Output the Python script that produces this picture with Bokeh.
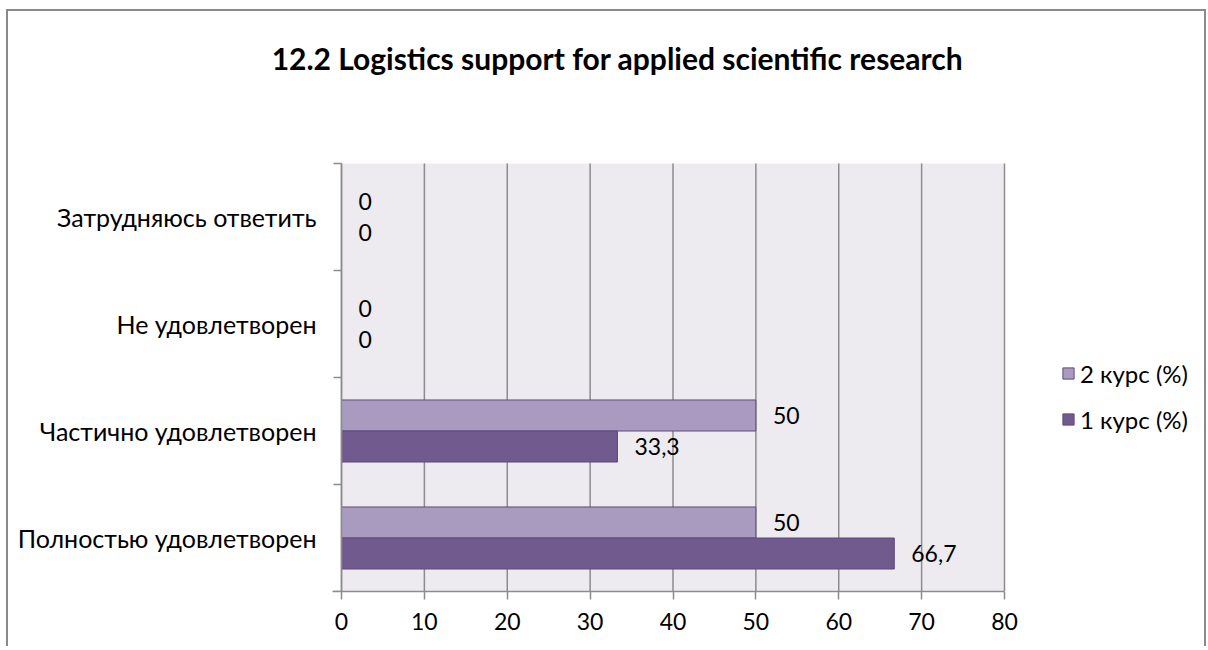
from bokeh.plotting import figure
from bokeh.models import ColumnDataSource, FixedTicker, Legend, LegendItem, Label
from bokeh.core.properties import value
from bokeh.embed import file_html
from bokeh.resources import INLINE

title_text = "12.2 Logistics support for applied scientific research"
categories = ["Полностью удовлетворен", "Частично удовлетворен", "Не удовлетворен", "Затрудняюсь ответить"]
series_names = ["2 курс (%)", "1 курс (%)"]
values_2 = [50, 50, 0, 0]
values_1 = [66.7, 33.3, 0, 0]
x_ticks = [0, 10, 20, 30, 40, 50, 60, 70, 80]
x_axis_max = 80

FONT = "Lato"
col_2 = "#A99BBF"
col_1 = "#715A8D"
edge = "#5F4A7B"
grid = "#8C8C8C"
plot_bg = "#EDEBF0"

n_cat = len(categories)
# plot area is 663 x 428 px, starting 333 px right of the canvas edge;
# the frame spans the whole canvas above the x axis (room for labels, title, legend)
AXIS_W, AXIS_H = 663, 428
LEFT_PAD, RIGHT_PAD, TOP_PAD = 333, 200, 152
FRAME_W = LEFT_PAD + AXIS_W + RIGHT_PAD
FRAME_H = TOP_PAD + AXIS_H
px_x = AXIS_W / x_axis_max
px_y = AXIS_H / n_cat
x_start = -LEFT_PAD / px_x
x_end = (AXIS_W + RIGHT_PAD) / px_x
y_end = n_cat * FRAME_H / AXIS_H

p = figure(frame_width=FRAME_W, frame_height=FRAME_H, output_backend="svg", toolbar_location=None,
           x_range=(x_start, x_end), y_range=(0, y_end),
           min_border_left=0, min_border_right=0, min_border_top=0, min_border_bottom=55)
p.styles = {"border-left": "2px solid #8A8A8A", "border-top": "2px solid #8A8A8A",
            "border-right": "2px solid #8A8A8A",
            "margin-top": "9px", "margin-left": "6px"}
p.outline_line_color = None
p.background_fill_color = "white"
p.border_fill_color = "white"

# plot area background (0..80 x categories)
p.quad(left=[0], right=[x_axis_max], bottom=[0], top=[n_cat],
       fill_color=plot_bg, line_color=None, level="image")
# vertical grid lines
p.segment(x0=x_ticks, y0=[0] * len(x_ticks), x1=x_ticks, y1=[n_cat] * len(x_ticks),
          line_color=grid, line_width=1.5, level="underlay")

bar_h = 0.29
idx = list(range(n_cat))

def fmt(v):
    return f"{v:g}".replace(".", ",")

src2 = ColumnDataSource(dict(y=[i + 0.5 + bar_h / 2 for i in idx], x=values_2, lab=[fmt(v) for v in values_2]))
src1 = ColumnDataSource(dict(y=[i + 0.5 - bar_h / 2 for i in idx], x=values_1, lab=[fmt(v) for v in values_1]))

r2 = p.hbar(y="y", right="x", left=0, height=bar_h, source=src2, fill_color=col_2, line_color=edge, line_width=1)
r1 = p.hbar(y="y", right="x", left=0, height=bar_h, source=src1, fill_color=col_1, line_color=edge, line_width=1)

for s in (src2, src1):
    p.text(x="x", y="y", text="lab", source=s, x_offset=17, text_baseline="middle", text_align="left",
           text_font=value(FONT), text_font_size="23px", text_color="black")

# x axis (below the frame); its line runs slightly left of 0 as in the original
p.xaxis.ticker = FixedTicker(ticks=x_ticks, minor_ticks=[])
p.xaxis.bounds = (-9 / px_x, x_axis_max)
p.xaxis.major_tick_out = 8
p.xaxis.major_tick_in = 0
p.xaxis.axis_line_color = grid
p.xaxis.axis_line_width = 1.5
p.xaxis.major_tick_line_color = grid
p.xaxis.major_tick_line_width = 1.5
p.xaxis.major_label_text_font = FONT
p.xaxis.major_label_text_font_size = "23px"
p.xaxis.major_label_text_color = "black"
p.xaxis.major_label_standoff = 13

# y axis drawn at x = 0
p.yaxis.fixed_location = 0
p.yaxis.ticker = FixedTicker(ticks=[i + 0.5 for i in idx], minor_ticks=[float(i) for i in range(n_cat + 1)])
p.yaxis.bounds = (0, n_cat)
p.yaxis.major_label_overrides = {i + 0.5: c for i, c in zip(idx, categories)}
p.yaxis.major_tick_out = 0
p.yaxis.major_tick_in = 0
p.yaxis.minor_tick_out = 8
p.yaxis.minor_tick_in = 0
p.yaxis.minor_tick_line_color = grid
p.yaxis.minor_tick_line_width = 1.5
p.yaxis.axis_line_color = grid
p.yaxis.axis_line_width = 1.5
p.yaxis.major_label_text_font = FONT
p.yaxis.major_label_text_font_size = "25px"
p.yaxis.major_label_text_color = "black"
p.yaxis.major_label_standoff = 17

p.xgrid.grid_line_color = None
p.ygrid.grid_line_color = None

# title (centred at page x ~618, y ~56; plot area starts at x 342, top 162)
p.add_layout(Label(x=(618 - 342) / px_x, y=n_cat + (162 - 56) / px_y, text=title_text,
                   text_font=FONT, text_font_style="bold", text_font_size="30px",
                   text_align="center", text_baseline="middle", text_color="black"))

legend = Legend(items=[LegendItem(label=series_names[0], renderers=[r2]),
                       LegendItem(label=series_names[1], renderers=[r1])],
                location=(LEFT_PAD + 720, 157), orientation="vertical")
legend.glyph_width = 14
legend.glyph_height = 14
legend.label_standoff = 5
legend.spacing = 16
legend.label_height = 30
legend.padding = 0
legend.margin = 0
legend.border_line_color = None
legend.background_fill_alpha = 0
legend.label_text_font = FONT
legend.label_text_font_size = "24px"
legend.label_text_color = "black"
p.add_layout(legend, "center")

open("out.html", "w").write(file_html(p, INLINE))
